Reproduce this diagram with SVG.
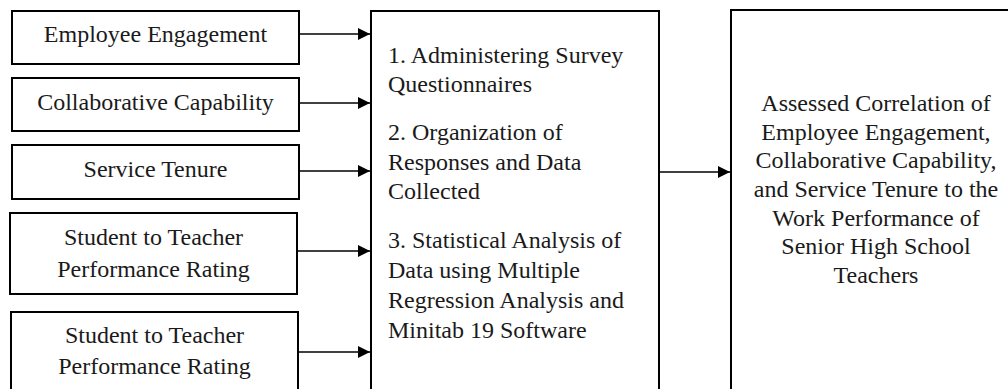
<svg xmlns="http://www.w3.org/2000/svg" width="1008" height="389" viewBox="0 0 1008 389">
  <style>
    .box { fill: #ffffff; stroke: #000000; stroke-width: 2; }
    .lbl { font-family: "Liberation Serif", "Times New Roman", serif; font-size: 24px; fill: #1a1a1a; }
    .mid { text-anchor: middle; }
    .link { stroke: #000000; stroke-width: 1.3; fill: none; marker-end: url(#arrow); }
  </style>
  <defs>
    <marker id="arrow" markerUnits="userSpaceOnUse" markerWidth="12" markerHeight="12" refX="12" refY="6" orient="auto">
      <path d="M0,0 L12,6 L0,12 Z" fill="#000000"/>
    </marker>
  </defs>
  <rect width="1008" height="389" fill="#ffffff"/>

  <!-- input variables -->
  <g id="employee-engagement">
    <rect class="box" x="12" y="11" width="287" height="53"/>
    <text class="lbl mid" x="155.5" y="42">Employee Engagement</text>
  </g>
  <g id="collaborative-capability">
    <rect class="box" x="12" y="78" width="287" height="53"/>
    <text class="lbl mid" x="155.5" y="110">Collaborative Capability</text>
  </g>
  <g id="service-tenure">
    <rect class="box" x="12" y="145" width="287" height="54"/>
    <text class="lbl mid" x="155.5" y="177">Service Tenure</text>
  </g>
  <g id="rating-a">
    <rect class="box" x="10" y="213" width="287" height="81"/>
    <text class="lbl mid" x="153.5" y="245">Student to Teacher</text>
    <text class="lbl mid" x="153.5" y="277">Performance Rating</text>
  </g>
  <g id="rating-b">
    <rect class="box" x="11" y="312" width="287" height="100"/>
    <text class="lbl mid" x="154.5" y="343">Student to Teacher</text>
    <text class="lbl mid" x="154.5" y="374">Performance Rating</text>
  </g>

  <!-- process -->
  <g id="process">
    <rect class="box" x="371" y="11" width="288" height="400"/>
    <text class="lbl" x="388" y="63">1. Administering Survey</text>
    <text class="lbl" x="388" y="92">Questionnaires</text>
    <text class="lbl" x="388" y="140">2. Organization of</text>
    <text class="lbl" x="388" y="170">Responses and Data</text>
    <text class="lbl" x="388" y="199">Collected</text>
    <text class="lbl" x="388" y="248">3. Statistical Analysis of</text>
    <text class="lbl" x="388" y="278">Data using Multiple</text>
    <text class="lbl" x="388" y="308">Regression Analysis and</text>
    <text class="lbl" x="388" y="338">Minitab 19 Software</text>
  </g>

  <!-- output -->
  <g id="output">
    <rect class="box" x="731" y="10" width="300" height="400"/>
    <text class="lbl mid" x="876" y="111">Assessed Correlation of</text>
    <text class="lbl mid" x="876" y="139.5">Employee Engagement,</text>
    <text class="lbl mid" x="876" y="168">Collaborative Capability,</text>
    <text class="lbl mid" x="876" y="197">and Service Tenure to the</text>
    <text class="lbl mid" x="876" y="226">Work Performance of</text>
    <text class="lbl mid" x="876" y="254">Senior High School</text>
    <text class="lbl mid" x="876" y="283">Teachers</text>
  </g>

  <!-- connectors -->
  <g id="connectors">
    <line class="link" x1="300" y1="34" x2="370" y2="34"/>
    <line class="link" x1="300" y1="103" x2="370" y2="103"/>
    <line class="link" x1="300" y1="171" x2="370" y2="171"/>
    <line class="link" x1="298" y1="251" x2="370" y2="251"/>
    <line class="link" x1="299" y1="352" x2="370" y2="352"/>
    <line class="link" x1="660" y1="172" x2="730" y2="172"/>
  </g>
</svg>
